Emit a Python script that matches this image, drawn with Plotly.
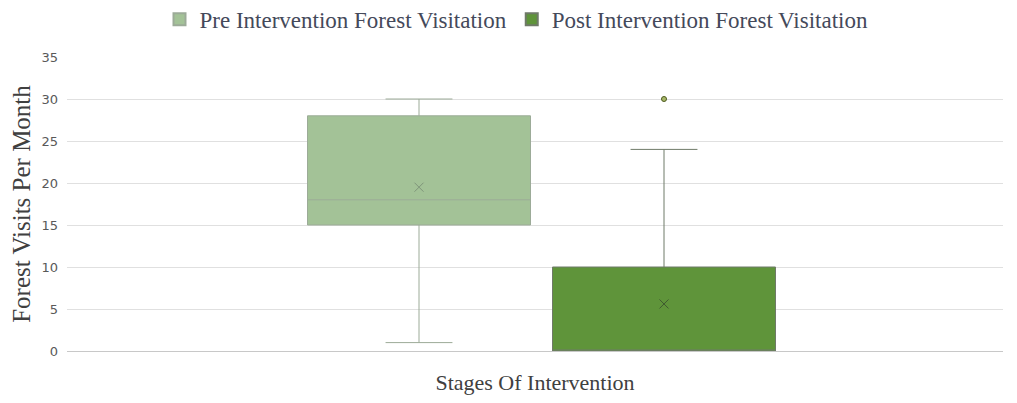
import plotly.graph_objects as go

# Data
series_names = ["Pre Intervention Forest Visitation", "Post Intervention Forest Visitation"]
positions = [352, 597]
lower_whisker = [1, 0]
q1_vals = [15, 0]
median_vals = [18, 0]
q3_vals = [28, 10]
upper_whisker = [30, 24]
mean_vals = [19.5, 5.6]
outlier_vals = [[], [30]]

fill_colors = ["#a3c297", "#5f943a"]
line_colors = ["#9cab98", "#6f7a68"]
mean_colors = ["#7f957a", "#3f5a30"]

fig = go.Figure()
for i, name in enumerate(series_names):
    fig.add_trace(go.Box(
        name=name,
        x=[positions[i]],
        q1=[q1_vals[i]], median=[median_vals[i]], q3=[q3_vals[i]],
        lowerfence=[lower_whisker[i]], upperfence=[upper_whisker[i]],
        width=223,
        whiskerwidth=0.3,
        fillcolor=fill_colors[i],
        line=dict(color=line_colors[i], width=1),
        boxpoints=False,
        hoverinfo="skip",
    ))
    fig.add_trace(go.Scatter(
        x=[positions[i]], y=[mean_vals[i]], mode="markers",
        marker=dict(symbol="x-thin", size=9, line=dict(color=mean_colors[i], width=1)),
        showlegend=False, hoverinfo="skip",
    ))
    if outlier_vals[i]:
        fig.add_trace(go.Scatter(
            x=[positions[i]] * len(outlier_vals[i]), y=outlier_vals[i], mode="markers",
            marker=dict(symbol="circle", size=5, color="#a8b86a", line=dict(color="#4d5a1e", width=1)),
            showlegend=False, hoverinfo="skip",
        ))

fig.update_layout(
    width=1017, height=403,
    margin=dict(l=59, r=22, t=49, b=60, autoexpand=False),
    paper_bgcolor="white", plot_bgcolor="white",
    showlegend=True,
    legend=dict(orientation="h", x=0.500, xanchor="center", y=0.972, yanchor="middle",
                yref="container", xref="container",
                font=dict(family="Liberation Serif", size=23, color="#44495a"),
                itemsizing="constant", itemwidth=30),
    font=dict(family="DejaVu Sans", color="#595959"),
)
fig.update_xaxes(range=[0, 936], showticklabels=False, showgrid=False, zeroline=False,
                 showline=True, linecolor="#c8c8c8", linewidth=1, ticks="",
                 automargin=True,
                 title=dict(text="Stages Of Intervention", standoff=23,
                            font=dict(family="Liberation Serif", size=22, color="#404040")))
fig.update_yaxes(range=[0, 35], dtick=5, showgrid=True, gridcolor="#e0e0e0", gridwidth=1,
                 zeroline=False, showline=False, ticks="", ticklabelstandoff=8,
                 automargin=True,
                 tickfont=dict(family="DejaVu Sans", size=13, color="#595959"),
                 title=dict(text="Forest Visits Per Month", standoff=12,
                            font=dict(family="Liberation Serif", size=25, color="#404040")))

fig.write_html("out.html")
